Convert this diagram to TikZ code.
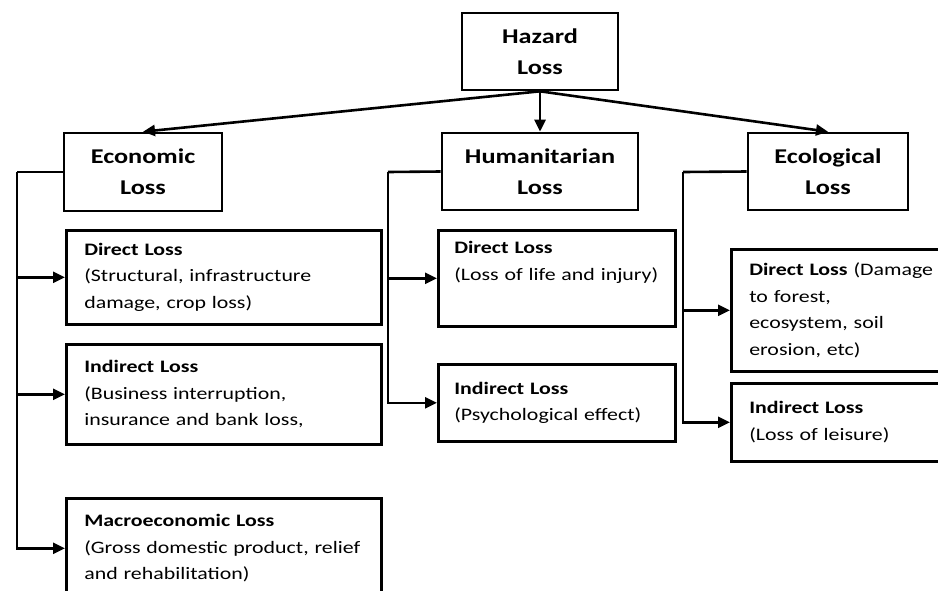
\documentclass[tikz,border=0pt]{standalone}
\usepackage{fontspec}
\setmainfont{Carlito}[FakeStretch=1.25]
\usepackage{tikz}
\usetikzlibrary{arrows.meta, positioning}

\begin{document}
\begin{tikzpicture}[
    x=1pt, y=-1pt,
    cat/.style={rectangle, draw, line width=2.6pt, align=center, inner sep=0pt, font=\bfseries\fontsize{21}{31}\selectfont},
    sub/.style={rectangle, draw, line width=2.6pt, anchor=north west, align=left, inner xsep=18pt, inner ysep=4pt, font=\fontsize{17.5}{26.5}\selectfont},
    link/.style={line width=2.6pt},
    arrow/.style={line width=2.6pt, -{Triangle[length=12pt, width=11pt]}}
]
    \useasboundingbox (0,0) rectangle (938,590);
    \clip (0,0) rectangle (938,590);

    % Top
    \node[cat, minimum width=156pt, minimum height=77pt] (hazard) at (540, 51.5) {Hazard\\Loss};

    % Categories
    \node[cat, minimum width=158pt, minimum height=78pt] (econ) at (143, 172) {Economic\\Loss};
    \node[cat, minimum width=196pt, minimum height=77pt] (human) at (540, 171.5) {Humanitarian\\Loss};
    \node[cat, minimum width=160pt, minimum height=77pt] (ecol) at (828, 171.5) {Ecological\\Loss};

    % Economic losses
    \node[sub, text width=279pt, minimum height=94pt] (econdir) at (65, 229) {\textbf{Direct Loss}\\(Structural, infrastructure\\damage, crop loss)};
    \node[sub, text width=279pt, minimum height=100pt] (econind) at (65, 343) {\textbf{Indirect Loss}\\(Business interruption,\\insurance and bank loss,};
    \node[sub, text width=279pt, minimum height=100pt] (macro) at (65, 497) {\textbf{Macroeconomic Loss}\\(Gross domestic product, relief\\and rehabilitation)};

    % Humanitarian losses
    \node[sub, inner xsep=16pt, text width=205pt, minimum height=96pt] (humdir) at (437, 229) {\textbf{Direct Loss}\\\mbox{(Loss of life and injury)}\\\strut};
    \node[sub, inner xsep=16pt, text width=205pt, minimum height=77pt] (humind) at (437, 363) {\textbf{Indirect Loss}\\(Psychological effect)};

    % Ecological losses
    \node[sub, text width=200pt, minimum height=122pt] (ecodir) at (730, 248) {\textbf{Direct Loss} (Damage\\to forest,\\ecosystem, soil\\erosion, etc)};
    \node[sub, text width=200pt, minimum height=78pt] (ecoind) at (730, 382) {\textbf{Indirect Loss}\\(Loss of leisure)};

    % Spines
    \coordinate (espine) at (17, 172);
    \coordinate (hspine) at (388, 172);
    \coordinate (lspine) at (683, 172);

    % Arrows
    \draw[arrow] (hazard.south) -- (econ.north);
    \draw[arrow] (hazard.south) -- (human.north);
    \draw[arrow] (hazard.south) -- (ecol.north);

    \draw[link] (econ.west) -- (espine);
    \draw[arrow] (espine) |- (macro.west);
    \draw[arrow] (espine |- econdir.west) -- (econdir.west);
    \draw[arrow] (espine |- econind.west) -- (econind.west);

    \draw[link] (human.west) -- (hspine);
    \draw[arrow] (hspine) |- (humind.west);
    \draw[arrow] (hspine |- humdir.west) -- (humdir.west);

    \draw[link] (ecol.west) -- (lspine);
    \draw[arrow] (lspine) |- (ecoind.west);
    \draw[arrow] (lspine |- ecodir.west) -- (ecodir.west);
\end{tikzpicture}
\end{document}
